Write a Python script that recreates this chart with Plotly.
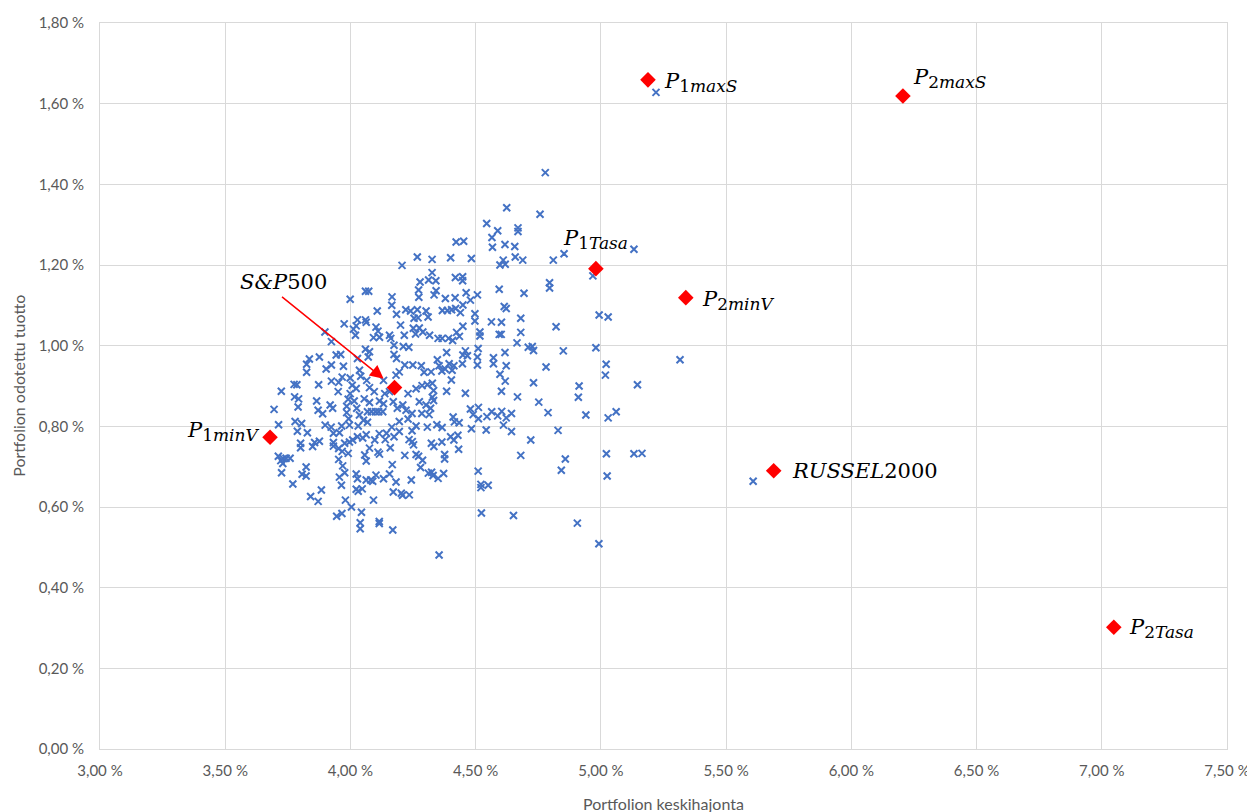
import plotly.graph_objects as go

# Random portfolios: (standard deviation %, expected return %)
random_portfolios = [
    (4.206, 1.199), (4.267, 1.220), (4.326, 1.214), (4.060, 1.135), (4.073, 1.135), (4.166, 1.121),
    (4.278, 1.158), (4.312, 1.163), (4.272, 1.138), (4.326, 1.181), (3.999, 1.115), (4.273, 1.120),
    (4.778, 1.429), (4.624, 1.342), (4.757, 1.326), (4.544, 1.303), (4.588, 1.285), (4.669, 1.292),
    (4.669, 1.283), (4.565, 1.268), (4.422, 1.257), (4.452, 1.259), (4.567, 1.244), (4.617, 1.251),
    (4.656, 1.246), (4.853, 1.228), (4.400, 1.218), (4.483, 1.216), (4.658, 1.220), (4.688, 1.212),
    (4.810, 1.212), (4.610, 1.212), (4.597, 1.200), (4.618, 1.202), (4.341, 1.161), (4.419, 1.169),
    (4.448, 1.171), (4.448, 1.161), (4.342, 1.136), (4.334, 1.126), (4.462, 1.131), (4.507, 1.126),
    (4.594, 1.140), (4.693, 1.130), (4.795, 1.156), (4.795, 1.143), (4.968, 1.173), (4.379, 1.117),
    (4.418, 1.119), (4.479, 1.113), (5.132, 1.239), (5.220, 1.628),
    # middle-right band
    (4.367, 1.087), (4.387, 1.087), (4.404, 1.089), (4.420, 1.092), (4.439, 1.082), (4.449, 1.101),
    (4.614, 1.097), (4.622, 1.092), (4.497, 1.079), (4.497, 1.061), (4.563, 1.059), (4.603, 1.058),
    (4.680, 1.068), (4.680, 1.033), (4.517, 1.034), (4.517, 1.024), (4.594, 1.028), (4.602, 1.028),
    (4.821, 1.047), (4.993, 1.076), (4.449, 1.048), (4.424, 1.033), (4.435, 1.023), (4.350, 1.018),
    (4.366, 1.018), (4.392, 1.018), (4.408, 1.013), (4.665, 1.007), (4.710, 0.996), (4.726, 0.998),
    (4.731, 0.988), (4.510, 0.993), (4.459, 0.987), (4.467, 0.975), (4.449, 0.977), (4.507, 0.972),
    (4.507, 0.952), (4.571, 0.970), (4.571, 0.955), (4.617, 0.983), (4.622, 0.950), (4.850, 0.987),
    (4.980, 0.995), (4.384, 0.983), (4.347, 0.965), (4.394, 0.955), (4.413, 0.950), (4.354, 0.950),
    (4.365, 0.937), (4.378, 0.942), (4.447, 0.955), (4.406, 0.939), (4.322, 0.935), (4.781, 0.947),
    (4.597, 0.929), (4.618, 0.912), (4.403, 0.915), (4.327, 0.907), (4.332, 0.889), (4.327, 0.872),
    (4.332, 0.864), (4.384, 0.887), (4.459, 0.882), (4.603, 0.887), (4.731, 0.908), (4.667, 0.873),
    (4.752, 0.860), (4.913, 0.900), (4.910, 0.872), (4.479, 0.843), (4.490, 0.829), (4.511, 0.847),
    (4.511, 0.819), (4.545, 0.824), (4.564, 0.836), (4.588, 0.826), (4.604, 0.837), (4.622, 0.821),
    (4.643, 0.832), (4.789, 0.834), (4.940, 0.828), (4.410, 0.823), (4.415, 0.811), (4.434, 0.809),
    (4.345, 0.804), (4.366, 0.797), (4.483, 0.794), (4.542, 0.791), (4.611, 0.803), (4.643, 0.787),
    (4.829, 0.790),
    # far right
    (5.029, 1.071), (5.316, 0.965), (5.021, 0.954), (5.018, 0.927), (5.146, 0.903), (5.029, 0.821),
    (5.061, 0.836),
    # lower right
    (4.323, 0.758), (4.333, 0.750), (4.365, 0.761), (4.400, 0.774), (4.413, 0.766), (4.429, 0.778),
    (4.720, 0.766), (4.376, 0.730), (4.376, 0.719), (4.432, 0.743), (4.680, 0.728), (4.858, 0.719),
    (4.842, 0.691), (4.311, 0.684), (4.324, 0.686), (4.330, 0.678), (4.350, 0.671), (4.372, 0.683),
    (4.510, 0.689), (4.521, 0.656), (4.521, 0.648), (4.550, 0.654), (4.523, 0.585), (4.651, 0.579),
    (4.906, 0.560), (4.992, 0.509), (4.354, 0.481), (5.022, 0.732), (5.132, 0.732), (5.164, 0.733),
    (5.025, 0.677), (5.608, 0.664),
    # lower left
    (3.712, 0.726), (3.722, 0.715), (3.732, 0.720), (3.743, 0.721), (3.759, 0.721), (3.730, 0.708),
    (3.725, 0.685), (3.770, 0.657), (3.807, 0.681), (3.823, 0.677), (3.823, 0.699), (3.841, 0.626),
    (3.871, 0.614), (3.884, 0.642), (3.801, 0.758), (3.801, 0.747), (3.849, 0.750), (3.857, 0.760),
    (3.876, 0.763), (3.788, 0.788), (3.828, 0.784), (3.932, 0.783), (3.956, 0.784), (3.932, 0.760),
    (3.932, 0.751), (3.953, 0.745), (3.967, 0.738), (3.991, 0.733), (3.953, 0.718), (3.969, 0.702),
    (3.977, 0.685), (3.956, 0.674), (3.964, 0.654), (3.980, 0.617), (3.945, 0.577), (3.966, 0.584),
    (4.004, 0.600), (4.044, 0.587), (4.039, 0.561), (4.039, 0.546), (4.115, 0.564), (4.115, 0.559),
    (4.169, 0.543), (4.092, 0.617), (4.023, 0.682), (4.028, 0.670), (4.023, 0.644), (4.031, 0.639),
    (4.047, 0.645), (4.063, 0.667), (4.081, 0.667), (4.089, 0.664), (4.102, 0.679), (4.132, 0.670),
    (4.156, 0.682), (4.182, 0.662), (4.171, 0.637), (4.203, 0.634), (4.208, 0.629), (4.235, 0.630),
    (4.243, 0.667), (4.167, 0.705), (4.217, 0.728), (4.262, 0.730), (4.272, 0.726), (4.280, 0.698),
    (4.288, 0.716), (4.252, 0.754), (4.234, 0.767), (4.247, 0.762), (4.159, 0.747), (4.110, 0.736),
    (4.116, 0.731), (4.063, 0.714), (4.057, 0.729), (4.076, 0.746), (4.097, 0.766), (4.139, 0.767),
    (4.115, 0.782), (4.144, 0.783), (4.174, 0.774), (4.195, 0.787), (4.246, 0.789), (4.028, 0.774),
    (4.049, 0.771), (4.063, 0.779), (3.996, 0.761), (4.009, 0.766), (3.977, 0.758),
    # central cluster
    (4.165, 1.100), (4.107, 1.086), (4.184, 1.078), (4.221, 1.089), (4.240, 1.086), (4.267, 1.089),
    (4.254, 1.068), (4.270, 1.069), (4.302, 1.086), (4.310, 1.071), (4.028, 1.064), (4.060, 1.064),
    (4.063, 1.058), (3.975, 1.054), (4.023, 1.049), (4.012, 1.041), (4.102, 1.046), (4.110, 1.036),
    (4.200, 1.051), (4.251, 1.043), (4.275, 1.044), (3.898, 1.034), (4.020, 1.026), (4.092, 1.020),
    (4.116, 1.021), (4.156, 1.026), (4.161, 1.018), (4.215, 1.026), (4.260, 1.029), (4.289, 1.034),
    (4.316, 1.026), (4.174, 1.001), (4.211, 0.998), (4.233, 0.996), (3.924, 1.010), (4.060, 0.991),
    (4.076, 0.985), (4.071, 0.972), (3.943, 0.977), (3.961, 0.978), (4.028, 0.968), (4.174, 0.978),
    (4.184, 0.968), (3.836, 0.967), (3.825, 0.954), (3.876, 0.972), (3.825, 0.934), (3.903, 0.942),
    (3.924, 0.952), (3.972, 0.949), (4.217, 0.952), (4.249, 0.952), (4.283, 0.950), (4.294, 0.934),
    (4.195, 0.935), (4.182, 0.927), (3.967, 0.922), (3.999, 0.920), (4.036, 0.939), (4.041, 0.924),
    (4.065, 0.914), (3.924, 0.912), (3.953, 0.909), (3.775, 0.904), (3.786, 0.903), (3.873, 0.903),
    (3.724, 0.887), (3.951, 0.886), (4.007, 0.902), (4.023, 0.894), (3.999, 0.881), (4.076, 0.896),
    (4.095, 0.886), (4.132, 0.914), (4.137, 0.881), (4.156, 0.886), (4.230, 0.881), (4.262, 0.893),
    (4.286, 0.901), (4.307, 0.903), (3.777, 0.873), (3.793, 0.868), (3.695, 0.842), (3.713, 0.804),
    (3.791, 0.848), (3.865, 0.863), (3.871, 0.840), (3.919, 0.853), (3.929, 0.845), (3.889, 0.831),
    (3.991, 0.867), (3.985, 0.850), (3.985, 0.834), (3.993, 0.819), (4.015, 0.863), (4.025, 0.845),
    (4.036, 0.828), (4.055, 0.868), (4.076, 0.859), (4.068, 0.836), (4.084, 0.836), (4.100, 0.836),
    (4.113, 0.836), (4.129, 0.836), (4.052, 0.815), (4.068, 0.810), (4.116, 0.863), (4.132, 0.856),
    (4.171, 0.861), (4.187, 0.845), (4.209, 0.853), (4.222, 0.840), (4.246, 0.832), (4.275, 0.861),
    (4.302, 0.853), (4.320, 0.845), (4.285, 0.832), (4.314, 0.829), (4.195, 0.812), (4.230, 0.818),
    (3.779, 0.812), (3.805, 0.807), (3.899, 0.803), (3.923, 0.798), (3.965, 0.801), (3.996, 0.803),
    (4.031, 0.801), (4.165, 0.798), (4.262, 0.801), (4.307, 0.798),
]
blue_sd = [p[0] for p in random_portfolios]
blue_ret = [p[1] for p in random_portfolios]

# Highlighted portfolios / indices
special_names = ["P1minV", "S&P500", "P1Tasa", "P1maxS", "P2maxS", "P2minV", "RUSSEL2000", "P2Tasa"]
special_sd = [3.679, 4.176, 4.980, 5.188, 6.206, 5.339, 5.690, 7.048]
special_ret = [0.773, 0.896, 1.191, 1.659, 1.619, 1.119, 0.690, 0.302]
SUB = '<sub><span style="font-size:17px">{}</span></sub>'
special_labels = [
    "<i>P</i>" + SUB.format("1<i>minV</i>"),
    "<i>S&amp;P</i>500",
    "<i>P</i>" + SUB.format("1<i>Tasa</i>"),
    "<i>P</i>" + SUB.format("1<i>maxS</i>"),
    "<i>P</i>" + SUB.format("2<i>maxS</i>"),
    "<i>P</i>" + SUB.format("2<i>minV</i>"),
    "<i>RUSSEL</i>2000",
    "<i>P</i>" + SUB.format("2<i>Tasa</i>"),
]
# label placement (pixels) : xanchor, xshift, yshift
label_pos = {
    "P1minV": ("right", -9, 6),
    "S&P500": ("center", -111, 106),
    "P1Tasa": ("left", -35, 29),
    "P1maxS": ("left", 14, -3),
    "P2maxS": ("left", 8, 18),
    "P2minV": ("left", 14, -3),
    "RUSSEL2000": ("left", 16, 0),
    "P2Tasa": ("left", 13, -1),
}

x_ticks = [3.0, 3.5, 4.0, 4.5, 5.0, 5.5, 6.0, 6.5, 7.0, 7.5]
y_ticks = [0.0, 0.2, 0.4, 0.6, 0.8, 1.0, 1.2, 1.4, 1.6, 1.8]
x_ticktext = [f"{v:.2f}".replace(".", ",") + " %" for v in x_ticks]
y_ticktext = [f"{v:.2f}".replace(".", ",") + " %" for v in y_ticks]

fig = go.Figure()
fig.add_trace(go.Scatter(
    x=blue_sd, y=blue_ret, mode="markers",
    marker=dict(symbol="x-thin", size=7, color="#4472C4",
                line=dict(color="#4472C4", width=2)),
    hoverinfo="skip", showlegend=False,
))
fig.add_trace(go.Scatter(
    x=special_sd, y=special_ret, mode="markers", text=special_names,
    marker=dict(symbol="diamond", size=12, color="#FF0000", line=dict(width=0)),
    showlegend=False,
))

label_font = dict(family="DejaVu Serif, Liberation Serif, serif", size=21, color="#000000")
for name, lab, sx, sy in zip(special_names, special_labels, special_sd, special_ret):
    xa, xs, ys = label_pos[name]
    fig.add_annotation(x=sx, y=sy, xref="x", yref="y", text=lab, showarrow=False,
                       xanchor=xa, yanchor="middle", xshift=xs, yshift=ys, font=label_font)

# arrow pointing to S&P500
sp_i = special_names.index("S&P500")
fig.add_annotation(x=special_sd[sp_i], y=special_ret[sp_i], xref="x", yref="y", text="",
                   showarrow=True, ax=-114, ay=-92, axref="pixel", ayref="pixel",
                   arrowhead=2, arrowsize=1.8, arrowwidth=1.5, arrowcolor="#FF0000", standoff=14)

axis_font = dict(family="Lato, Open Sans, sans-serif", size=15, color="#595959")
title_font = dict(family="Lato, Open Sans, sans-serif", size=16, color="#595959")
fig.add_annotation(text="Portfolion keskihajonta", xref="paper", yref="paper", x=0.5, y=-0.075,
                   showarrow=False, xanchor="center", yanchor="middle", font=title_font)
fig.add_annotation(text="Portfolion odotettu tuotto", xref="paper", yref="paper", x=-0.073, y=0.5,
                   showarrow=False, textangle=-90, xanchor="center", yanchor="middle",
                   font=title_font)

fig.update_layout(
    width=1247, height=804,
    margin=dict(l=92, r=28, t=15, b=63, autoexpand=False),
    paper_bgcolor="white", plot_bgcolor="white",
    font=axis_font,
    xaxis=dict(range=[3.0, 7.5], tickvals=x_ticks, ticktext=x_ticktext, automargin=False,
               showgrid=True, gridcolor="#D9D9D9", gridwidth=1, zeroline=False,
               showline=True, linecolor="#D9D9D9", mirror=True, ticks="", ticklabelstandoff=8,
               tickfont=axis_font),
    yaxis=dict(range=[0.0, 1.8], tickvals=y_ticks, ticktext=y_ticktext, automargin=False,
               showgrid=True, gridcolor="#D9D9D9", gridwidth=1, zeroline=False,
               showline=True, linecolor="#D9D9D9", mirror=True, ticks="", ticklabelstandoff=12,
               tickfont=axis_font),
)

fig.write_html("out.html")
